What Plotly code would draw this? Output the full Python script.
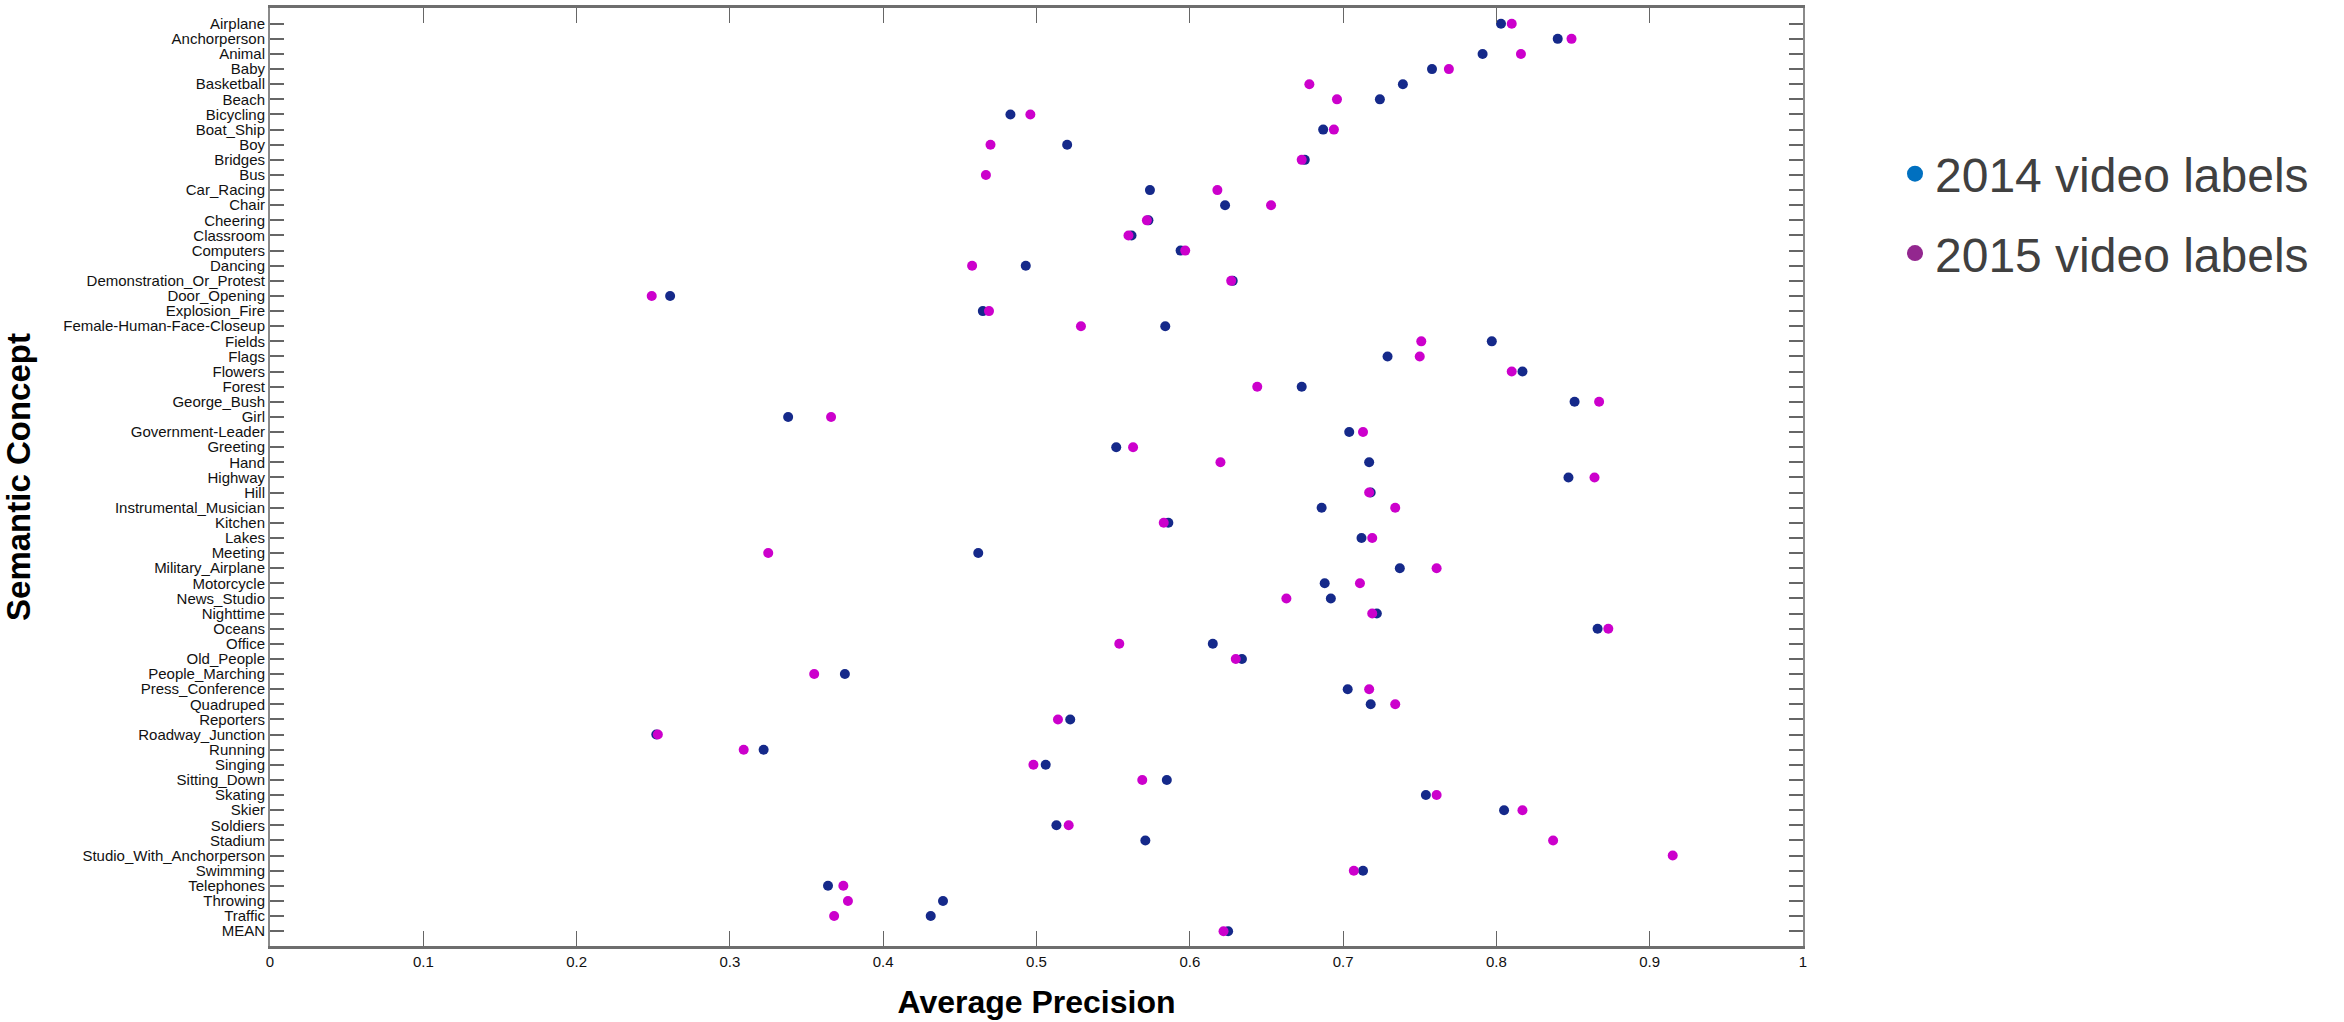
import plotly.graph_objects as go

categories = [
    "Airplane", "Anchorperson", "Animal", "Baby", "Basketball", "Beach", "Bicycling",
    "Boat_Ship", "Boy", "Bridges", "Bus", "Car_Racing", "Chair", "Cheering", "Classroom",
    "Computers", "Dancing", "Demonstration_Or_Protest", "Door_Opening", "Explosion_Fire",
    "Female-Human-Face-Closeup", "Fields", "Flags", "Flowers", "Forest", "George_Bush",
    "Girl", "Government-Leader", "Greeting", "Hand", "Highway", "Hill",
    "Instrumental_Musician", "Kitchen", "Lakes", "Meeting", "Military_Airplane",
    "Motorcycle", "News_Studio", "Nighttime", "Oceans", "Office", "Old_People",
    "People_Marching", "Press_Conference", "Quadruped", "Reporters", "Roadway_Junction",
    "Running", "Singing", "Sitting_Down", "Skating", "Skier", "Soldiers", "Stadium",
    "Studio_With_Anchorperson", "Swimming", "Telephones", "Throwing", "Traffic", "MEAN",
]

ap_2014 = [
    0.803, 0.840, 0.791, 0.758, 0.739, 0.724, 0.483,
    0.687, 0.520, 0.675, None, 0.574, 0.623, 0.573, 0.562,
    0.594, 0.493, 0.628, 0.261, 0.465,
    0.584, 0.797, 0.729, 0.817, 0.673, 0.851,
    0.338, 0.704, 0.552, 0.717, 0.847, 0.718,
    0.686, 0.586, 0.712, 0.462, 0.737,
    0.688, 0.692, 0.722, 0.866, 0.615, 0.634,
    0.375, 0.703, 0.718, 0.522, 0.252,
    0.322, 0.506, 0.585, 0.754, 0.805, 0.513, 0.571,
    None, 0.713, 0.364, 0.439, 0.431, 0.625,
]

ap_2015 = [
    0.810, 0.849, 0.816, 0.769, 0.678, 0.696, 0.496,
    0.694, 0.470, 0.673, 0.467, 0.618, 0.653, 0.572, 0.560,
    0.597, 0.458, 0.627, 0.249, 0.469,
    0.529, 0.751, 0.750, 0.810, 0.644, 0.867,
    0.366, 0.713, 0.563, 0.620, 0.864, 0.717,
    0.734, 0.583, 0.719, 0.325, 0.761,
    0.711, 0.663, 0.719, 0.873, 0.554, 0.630,
    0.355, 0.717, 0.734, 0.514, 0.253,
    0.309, 0.498, 0.569, 0.761, 0.817, 0.521, 0.837,
    0.915, 0.707, 0.374, 0.377, 0.368, 0.622,
]

series_names = ["2014 video labels", "2015 video labels"]
x_ticks = [0, 0.1, 0.2, 0.3, 0.4, 0.5, 0.6, 0.7, 0.8, 0.9, 1]
x_tick_text = ["0", "0.1", "0.2", "0.3", "0.4", "0.5", "0.6", "0.7", "0.8", "0.9", "1"]

W, H = 2344, 1022
ML, MR, MT, MB = 270, W - 1803, 8, H - 946

fig = go.Figure()
fig.add_trace(go.Scatter(
    x=ap_2014, y=categories, mode="markers", showlegend=False,
    marker=dict(size=10, color="#15298a"), name=series_names[0],
))
fig.add_trace(go.Scatter(
    x=ap_2015, y=categories, mode="markers", showlegend=False,
    marker=dict(size=10, color="#cc00cc"), name=series_names[1],
))
# legend entries (legend swatches use different colours than the data marks)
fig.add_trace(go.Scatter(
    x=[None], y=[None], mode="markers", name=series_names[0], legendgroup="a",
    marker=dict(size=21, color="#0070c0"),
))
fig.add_trace(go.Scatter(
    x=[None], y=[None], mode="markers", name=series_names[1], legendgroup="b",
    marker=dict(size=21, color="#93278f"),
))

base = "Liberation Sans, Arial, sans-serif"

fig.update_layout(
    width=W, height=H,
    margin=dict(l=ML, r=MR, t=MT, b=MB, pad=0),
    paper_bgcolor="white", plot_bgcolor="white",
    font=dict(family=base, color="#111111"),
    legend=dict(
        x=(1895 - ML) / (W - ML - MR), xanchor="left",
        y=1 - (136 - MT) / (H - MT - MB), yanchor="top",
        font=dict(size=48, color="#404040", family=base),
        tracegroupgap=14, bgcolor="rgba(0,0,0,0)",
    ),
    xaxis=dict(
        range=[0, 1], tickmode="array", tickvals=x_ticks, ticktext=x_tick_text,
        showgrid=False, zeroline=False,
        ticks="inside", ticklen=15, tickwidth=1.2, tickcolor="#666666",
        showline=True, linecolor="#6e6e6e", linewidth=2.5, mirror="ticks",
        tickfont=dict(size=15, family=base, color="#111111"),
        title=dict(text="<b>Average Precision</b>", standoff=22,
                   font=dict(size=32, family=base, color="#000000")),
        automargin=False,
    ),
    yaxis=dict(
        type="category", categoryorder="array", categoryarray=categories,
        tickmode="array", tickvals=categories, ticktext=categories,
        range=[60.98, -1.04],
        showgrid=False, zeroline=False,
        ticks="inside", ticklen=14, tickwidth=1.5, tickcolor="#666666",
        showline=True, linecolor="#8a8a8a", linewidth=2, mirror="ticks",
        tickfont=dict(size=15, family=base, color="#111111"),
        title=dict(text="<b>Semantic Concept</b>", standoff=34,
                   font=dict(size=33, family=base, color="#000000")),
        automargin=False,
    ),
)

fig.write_html("out.html")
